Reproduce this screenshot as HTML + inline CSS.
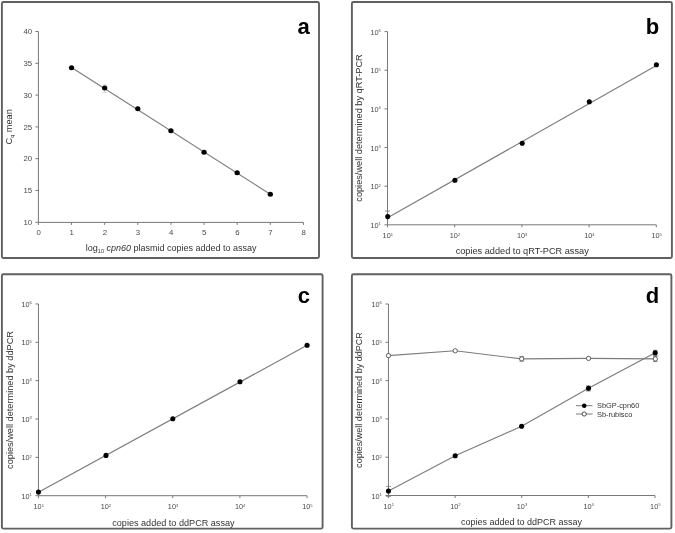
<!DOCTYPE html>
<html lang="en"><head><meta charset="utf-8"><title>Figure</title>
<style>
html,body{margin:0;padding:0;background:#fff;}
body{width:675px;height:533px;overflow:hidden;}
svg{display:block;font-family:"Liberation Sans",Arial,Helvetica,sans-serif;}
</style></head><body>
<svg width="675" height="533" viewBox="0 0 675 533">
<rect width="675" height="533" fill="#fff"/>
<g>
<rect x="1.9" y="2.0" width="317.10" height="256.00" rx="1.5" ry="1.5" fill="#fff" stroke="#606060" stroke-width="1.9"/>
<path d="M38.4 31.50V222.4H303.44" fill="none" stroke="#787878" stroke-width="1"/>
<path d="M38.40 222.4v2.5" stroke="#787878" stroke-width="1"/>
<text x="38.60" y="235.40" text-anchor="middle" font-size="7.8" fill="#4a4a4a">0</text>
<path d="M71.53 222.4v2.5" stroke="#787878" stroke-width="1"/>
<text x="71.73" y="235.40" text-anchor="middle" font-size="7.8" fill="#4a4a4a">1</text>
<path d="M104.66 222.4v2.5" stroke="#787878" stroke-width="1"/>
<text x="104.86" y="235.40" text-anchor="middle" font-size="7.8" fill="#4a4a4a">2</text>
<path d="M137.79 222.4v2.5" stroke="#787878" stroke-width="1"/>
<text x="137.99" y="235.40" text-anchor="middle" font-size="7.8" fill="#4a4a4a">3</text>
<path d="M170.92 222.4v2.5" stroke="#787878" stroke-width="1"/>
<text x="171.12" y="235.40" text-anchor="middle" font-size="7.8" fill="#4a4a4a">4</text>
<path d="M204.05 222.4v2.5" stroke="#787878" stroke-width="1"/>
<text x="204.25" y="235.40" text-anchor="middle" font-size="7.8" fill="#4a4a4a">5</text>
<path d="M237.18 222.4v2.5" stroke="#787878" stroke-width="1"/>
<text x="237.38" y="235.40" text-anchor="middle" font-size="7.8" fill="#4a4a4a">6</text>
<path d="M270.31 222.4v2.5" stroke="#787878" stroke-width="1"/>
<text x="270.51" y="235.40" text-anchor="middle" font-size="7.8" fill="#4a4a4a">7</text>
<path d="M303.44 222.4v2.5" stroke="#787878" stroke-width="1"/>
<text x="303.64" y="235.40" text-anchor="middle" font-size="7.8" fill="#4a4a4a">8</text>
<path d="M38.4 222.30h-3" stroke="#787878" stroke-width="1"/>
<text x="32.1" y="225.00" text-anchor="end" font-size="7.8" fill="#4a4a4a">10</text>
<path d="M38.4 190.50h-3" stroke="#787878" stroke-width="1"/>
<text x="32.1" y="193.20" text-anchor="end" font-size="7.8" fill="#4a4a4a">15</text>
<path d="M38.4 158.70h-3" stroke="#787878" stroke-width="1"/>
<text x="32.1" y="161.40" text-anchor="end" font-size="7.8" fill="#4a4a4a">20</text>
<path d="M38.4 126.90h-3" stroke="#787878" stroke-width="1"/>
<text x="32.1" y="129.60" text-anchor="end" font-size="7.8" fill="#4a4a4a">25</text>
<path d="M38.4 95.10h-3" stroke="#787878" stroke-width="1"/>
<text x="32.1" y="97.80" text-anchor="end" font-size="7.8" fill="#4a4a4a">30</text>
<path d="M38.4 63.30h-3" stroke="#787878" stroke-width="1"/>
<text x="32.1" y="66.00" text-anchor="end" font-size="7.8" fill="#4a4a4a">35</text>
<path d="M38.4 31.50h-3" stroke="#787878" stroke-width="1"/>
<text x="32.1" y="34.20" text-anchor="end" font-size="7.8" fill="#4a4a4a">40</text>
<path d="M71.53 67.43L270.31 194.32" fill="none" stroke="#7c7c7c" stroke-width="1.15"/>
<path d="M104.66 84.92399999999999V92.55600000000001M102.46 84.92399999999999h4.4M102.46 92.55600000000001h4.4" stroke="#ccc" stroke-width="0.8" fill="none"/>
<ellipse cx="71.53" cy="67.75" rx="2.65" ry="2.5" fill="#000"/>
<ellipse cx="104.66" cy="88.10" rx="2.65" ry="2.5" fill="#000"/>
<ellipse cx="137.79" cy="108.77" rx="2.65" ry="2.5" fill="#000"/>
<ellipse cx="170.92" cy="130.72" rx="2.65" ry="2.5" fill="#000"/>
<ellipse cx="204.05" cy="152.34" rx="2.65" ry="2.5" fill="#000"/>
<ellipse cx="237.18" cy="172.69" rx="2.65" ry="2.5" fill="#000"/>
<ellipse cx="270.31" cy="194.32" rx="2.65" ry="2.5" fill="#000"/>
<text transform="translate(11.7 126.8) rotate(-90)" text-anchor="middle" font-size="9.2" fill="#333">C<tspan dy="2.5" font-size="5.5">q</tspan><tspan dy="-2.5"> mean</tspan></text>
<text x="171.2" y="250.8" text-anchor="middle" font-size="9.0" fill="#333">log<tspan dy="2.5" font-size="5.5">10</tspan><tspan dy="-2.5"> </tspan><tspan font-style="italic">cpn60</tspan> plasmid copies added to assay</text>
<text x="303.6" y="34.1" text-anchor="middle" font-size="22" font-weight="bold" fill="#000">a</text>
<rect x="351.9" y="2.0" width="320.00" height="256.00" rx="1.5" ry="1.5" fill="#fff" stroke="#606060" stroke-width="1.9"/>
<path d="M387.5 31.60V224.8H656.30" fill="none" stroke="#787878" stroke-width="1"/>
<path d="M387.50 224.8v2.5" stroke="#787878" stroke-width="1"/>
<text x="387.80" y="238.40" text-anchor="middle" font-size="7.3" fill="#4a4a4a">10<tspan dy="-2.7" font-size="4.1">1</tspan></text>
<path d="M454.70 224.8v2.5" stroke="#787878" stroke-width="1"/>
<text x="455.00" y="238.40" text-anchor="middle" font-size="7.3" fill="#4a4a4a">10<tspan dy="-2.7" font-size="4.1">2</tspan></text>
<path d="M521.90 224.8v2.5" stroke="#787878" stroke-width="1"/>
<text x="522.20" y="238.40" text-anchor="middle" font-size="7.3" fill="#4a4a4a">10<tspan dy="-2.7" font-size="4.1">3</tspan></text>
<path d="M589.10 224.8v2.5" stroke="#787878" stroke-width="1"/>
<text x="589.40" y="238.40" text-anchor="middle" font-size="7.3" fill="#4a4a4a">10<tspan dy="-2.7" font-size="4.1">4</tspan></text>
<path d="M656.30 224.8v2.5" stroke="#787878" stroke-width="1"/>
<text x="656.60" y="238.40" text-anchor="middle" font-size="7.3" fill="#4a4a4a">10<tspan dy="-2.7" font-size="4.1">5</tspan></text>
<path d="M387.5 224.80h-3" stroke="#787878" stroke-width="1"/>
<text x="380.90" y="227.90" text-anchor="end" font-size="7.3" fill="#4a4a4a">10<tspan dy="-2.7" font-size="4.1">1</tspan></text>
<path d="M387.5 186.16h-3" stroke="#787878" stroke-width="1"/>
<text x="380.90" y="189.26" text-anchor="end" font-size="7.3" fill="#4a4a4a">10<tspan dy="-2.7" font-size="4.1">2</tspan></text>
<path d="M387.5 147.52h-3" stroke="#787878" stroke-width="1"/>
<text x="380.90" y="150.62" text-anchor="end" font-size="7.3" fill="#4a4a4a">10<tspan dy="-2.7" font-size="4.1">3</tspan></text>
<path d="M387.5 108.88h-3" stroke="#787878" stroke-width="1"/>
<text x="380.90" y="111.98" text-anchor="end" font-size="7.3" fill="#4a4a4a">10<tspan dy="-2.7" font-size="4.1">4</tspan></text>
<path d="M387.5 70.24h-3" stroke="#787878" stroke-width="1"/>
<text x="380.90" y="73.34" text-anchor="end" font-size="7.3" fill="#4a4a4a">10<tspan dy="-2.7" font-size="4.1">5</tspan></text>
<path d="M387.5 31.60h-3" stroke="#787878" stroke-width="1"/>
<text x="380.90" y="34.70" text-anchor="end" font-size="7.3" fill="#4a4a4a">10<tspan dy="-2.7" font-size="4.1">6</tspan></text>
<path d="M387.60 217.80L656.40 65.60" fill="none" stroke="#7c7c7c" stroke-width="1.15"/>
<path d="M387.6 211V222M385.20000000000005 211h4.8" stroke="#777" stroke-width="0.8" fill="none"/>
<ellipse cx="387.70" cy="216.60" rx="2.55" ry="2.55" fill="#000"/>
<ellipse cx="454.90" cy="180.30" rx="2.55" ry="2.55" fill="#000"/>
<ellipse cx="522.20" cy="143.30" rx="2.55" ry="2.55" fill="#000"/>
<ellipse cx="589.30" cy="101.80" rx="2.55" ry="2.55" fill="#000"/>
<ellipse cx="656.40" cy="64.80" rx="2.55" ry="2.55" fill="#000"/>
<text transform="translate(362.0 128) rotate(-90)" text-anchor="middle" font-size="9.2" fill="#333">copies/well determined by qRT-PCR</text>
<text x="522.2" y="254" text-anchor="middle" font-size="9.2" fill="#333">copies added to qRT-PCR assay</text>
<text x="652.4" y="33.9" text-anchor="middle" font-size="22" font-weight="bold" fill="#000">b</text>
<rect x="1.9" y="274.2" width="320.70" height="254.40" rx="1.5" ry="1.5" fill="#fff" stroke="#606060" stroke-width="1.9"/>
<path d="M38.45 303.95V495.7H307.05" fill="none" stroke="#787878" stroke-width="1"/>
<path d="M38.45 495.7v2.5" stroke="#787878" stroke-width="1"/>
<text x="38.75" y="509.30" text-anchor="middle" font-size="7.3" fill="#4a4a4a">10<tspan dy="-2.7" font-size="4.1">1</tspan></text>
<path d="M105.60 495.7v2.5" stroke="#787878" stroke-width="1"/>
<text x="105.90" y="509.30" text-anchor="middle" font-size="7.3" fill="#4a4a4a">10<tspan dy="-2.7" font-size="4.1">2</tspan></text>
<path d="M172.75 495.7v2.5" stroke="#787878" stroke-width="1"/>
<text x="173.05" y="509.30" text-anchor="middle" font-size="7.3" fill="#4a4a4a">10<tspan dy="-2.7" font-size="4.1">3</tspan></text>
<path d="M239.90 495.7v2.5" stroke="#787878" stroke-width="1"/>
<text x="240.20" y="509.30" text-anchor="middle" font-size="7.3" fill="#4a4a4a">10<tspan dy="-2.7" font-size="4.1">4</tspan></text>
<path d="M307.05 495.7v2.5" stroke="#787878" stroke-width="1"/>
<text x="307.35" y="509.30" text-anchor="middle" font-size="7.3" fill="#4a4a4a">10<tspan dy="-2.7" font-size="4.1">5</tspan></text>
<path d="M38.45 495.70h-3" stroke="#787878" stroke-width="1"/>
<text x="31.85" y="498.80" text-anchor="end" font-size="7.3" fill="#4a4a4a">10<tspan dy="-2.7" font-size="4.1">1</tspan></text>
<path d="M38.45 457.35h-3" stroke="#787878" stroke-width="1"/>
<text x="31.85" y="460.45" text-anchor="end" font-size="7.3" fill="#4a4a4a">10<tspan dy="-2.7" font-size="4.1">2</tspan></text>
<path d="M38.45 419.00h-3" stroke="#787878" stroke-width="1"/>
<text x="31.85" y="422.10" text-anchor="end" font-size="7.3" fill="#4a4a4a">10<tspan dy="-2.7" font-size="4.1">3</tspan></text>
<path d="M38.45 380.65h-3" stroke="#787878" stroke-width="1"/>
<text x="31.85" y="383.75" text-anchor="end" font-size="7.3" fill="#4a4a4a">10<tspan dy="-2.7" font-size="4.1">4</tspan></text>
<path d="M38.45 342.30h-3" stroke="#787878" stroke-width="1"/>
<text x="31.85" y="345.40" text-anchor="end" font-size="7.3" fill="#4a4a4a">10<tspan dy="-2.7" font-size="4.1">5</tspan></text>
<path d="M38.45 303.95h-3" stroke="#787878" stroke-width="1"/>
<text x="31.85" y="307.05" text-anchor="end" font-size="7.3" fill="#4a4a4a">10<tspan dy="-2.7" font-size="4.1">6</tspan></text>
<path d="M38.45 492.20L307.10 345.30" fill="none" stroke="#7c7c7c" stroke-width="1.15"/>
<ellipse cx="38.45" cy="492.00" rx="2.55" ry="2.55" fill="#000"/>
<ellipse cx="106.00" cy="455.40" rx="2.55" ry="2.55" fill="#000"/>
<ellipse cx="172.80" cy="418.70" rx="2.55" ry="2.55" fill="#000"/>
<ellipse cx="240.00" cy="381.70" rx="2.55" ry="2.55" fill="#000"/>
<ellipse cx="307.10" cy="345.30" rx="2.55" ry="2.55" fill="#000"/>
<text transform="translate(13.3 400) rotate(-90)" text-anchor="middle" font-size="9.2" fill="#333">copies/well determined by ddPCR</text>
<text x="173.4" y="525.7" text-anchor="middle" font-size="9.1" fill="#333">copies added to ddPCR assay</text>
<text x="303.9" y="302.9" text-anchor="middle" font-size="22" font-weight="bold" fill="#000">c</text>
<rect x="351.9" y="274.2" width="319.50" height="254.40" rx="1.5" ry="1.5" fill="#fff" stroke="#606060" stroke-width="1.9"/>
<path d="M388.45 304.00V495.5H655.01" fill="none" stroke="#787878" stroke-width="1"/>
<path d="M388.45 495.5v2.5" stroke="#787878" stroke-width="1"/>
<text x="388.75" y="509.10" text-anchor="middle" font-size="7.3" fill="#4a4a4a">10<tspan dy="-2.7" font-size="4.1">1</tspan></text>
<path d="M455.09 495.5v2.5" stroke="#787878" stroke-width="1"/>
<text x="455.39" y="509.10" text-anchor="middle" font-size="7.3" fill="#4a4a4a">10<tspan dy="-2.7" font-size="4.1">2</tspan></text>
<path d="M521.73 495.5v2.5" stroke="#787878" stroke-width="1"/>
<text x="522.03" y="509.10" text-anchor="middle" font-size="7.3" fill="#4a4a4a">10<tspan dy="-2.7" font-size="4.1">3</tspan></text>
<path d="M588.37 495.5v2.5" stroke="#787878" stroke-width="1"/>
<text x="588.67" y="509.10" text-anchor="middle" font-size="7.3" fill="#4a4a4a">10<tspan dy="-2.7" font-size="4.1">4</tspan></text>
<path d="M655.01 495.5v2.5" stroke="#787878" stroke-width="1"/>
<text x="655.31" y="509.10" text-anchor="middle" font-size="7.3" fill="#4a4a4a">10<tspan dy="-2.7" font-size="4.1">5</tspan></text>
<path d="M388.45 495.50h-3" stroke="#787878" stroke-width="1"/>
<text x="381.85" y="498.60" text-anchor="end" font-size="7.3" fill="#4a4a4a">10<tspan dy="-2.7" font-size="4.1">1</tspan></text>
<path d="M388.45 457.20h-3" stroke="#787878" stroke-width="1"/>
<text x="381.85" y="460.30" text-anchor="end" font-size="7.3" fill="#4a4a4a">10<tspan dy="-2.7" font-size="4.1">2</tspan></text>
<path d="M388.45 418.90h-3" stroke="#787878" stroke-width="1"/>
<text x="381.85" y="422.00" text-anchor="end" font-size="7.3" fill="#4a4a4a">10<tspan dy="-2.7" font-size="4.1">3</tspan></text>
<path d="M388.45 380.60h-3" stroke="#787878" stroke-width="1"/>
<text x="381.85" y="383.70" text-anchor="end" font-size="7.3" fill="#4a4a4a">10<tspan dy="-2.7" font-size="4.1">4</tspan></text>
<path d="M388.45 342.30h-3" stroke="#787878" stroke-width="1"/>
<text x="381.85" y="345.40" text-anchor="end" font-size="7.3" fill="#4a4a4a">10<tspan dy="-2.7" font-size="4.1">5</tspan></text>
<path d="M388.45 304.00h-3" stroke="#787878" stroke-width="1"/>
<text x="381.85" y="307.10" text-anchor="end" font-size="7.3" fill="#4a4a4a">10<tspan dy="-2.7" font-size="4.1">6</tspan></text>
<path d="M388.45 355.60L455.20 350.80L521.70 358.90L588.50 358.40L655.30 358.90" fill="none" stroke="#7c7c7c" stroke-width="1.15"/>
<path d="M388.45 491.00L455.20 455.80L521.60 426.20L588.50 388.20L655.20 352.80" fill="none" stroke="#7c7c7c" stroke-width="1.15"/>
<path d="M388.45 486.4V496.4M386.05 486.4h4.8M386.05 496.4h4.8" stroke="#777" stroke-width="0.8" fill="none"/>
<path d="M588.4 385.9V391M586.0 385.9h4.8M586.0 391h4.8" stroke="#777" stroke-width="0.8" fill="none"/>
<path d="M655.2 350.3V355.4M652.8000000000001 350.3h4.8M652.8000000000001 355.4h4.8" stroke="#777" stroke-width="0.8" fill="none"/>
<path d="M655.3 356.4V361.6M652.9 356.4h4.8M652.9 361.6h4.8" stroke="#777" stroke-width="0.8" fill="none"/>
<path d="M521.7 356.6V361.2M519.3000000000001 356.6h4.8M519.3000000000001 361.2h4.8" stroke="#777" stroke-width="0.8" fill="none"/>
<circle cx="388.45" cy="355.60" r="2.15" fill="#fff" stroke="#444" stroke-width="0.85"/>
<circle cx="455.20" cy="350.80" r="2.15" fill="#fff" stroke="#444" stroke-width="0.85"/>
<circle cx="521.70" cy="358.90" r="2.15" fill="#fff" stroke="#444" stroke-width="0.85"/>
<circle cx="588.50" cy="358.40" r="2.15" fill="#fff" stroke="#444" stroke-width="0.85"/>
<circle cx="655.30" cy="358.90" r="2.15" fill="#fff" stroke="#444" stroke-width="0.85"/>
<ellipse cx="388.45" cy="491.00" rx="2.55" ry="2.55" fill="#000"/>
<ellipse cx="455.20" cy="455.80" rx="2.55" ry="2.55" fill="#000"/>
<ellipse cx="521.60" cy="426.20" rx="2.55" ry="2.55" fill="#000"/>
<ellipse cx="588.50" cy="388.20" rx="2.55" ry="2.55" fill="#000"/>
<ellipse cx="655.20" cy="352.80" rx="2.55" ry="2.55" fill="#000"/>
<path d="M576 405.7H592.5M576 414H592.5" stroke="#7c7c7c" stroke-width="1"/>
<ellipse cx="584.20" cy="405.70" rx="2.3" ry="2.3" fill="#000"/>
<circle cx="584.20" cy="414.00" r="2.1" fill="#fff" stroke="#333" stroke-width="0.85"/>
<text x="597" y="408.3" font-size="7.4" fill="#333">SbGP-cpn60</text>
<text x="597" y="416.6" font-size="7.4" fill="#333">Sb-rubisco</text>
<text transform="translate(362.3 400) rotate(-90)" text-anchor="middle" font-size="9.05" fill="#333">copies/well determined by ddPCR</text>
<text x="521.5" y="524.7" text-anchor="middle" font-size="9.0" fill="#333">copies added to ddPCR assay</text>
<text x="652.4" y="302.6" text-anchor="middle" font-size="22" font-weight="bold" fill="#000">d</text>
</g>
</svg>
</body></html>
